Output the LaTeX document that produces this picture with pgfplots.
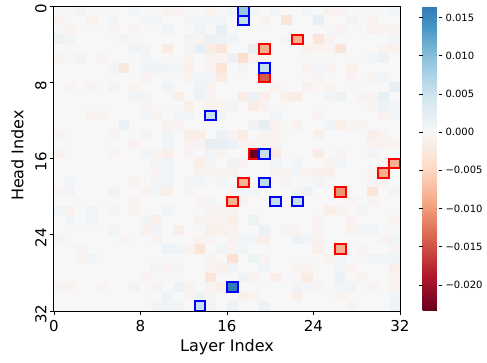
\documentclass[border=0pt]{standalone}
\usepackage{pgfplots}
\pgfplotsset{compat=1.18}
\usepackage{fontspec}
\setmainfont{DejaVu Sans}
\begin{document}
\begin{tikzpicture}
\begin{axis}[
 name=main,
 scale only axis, width=346pt, height=305pt,
 xmin=0, xmax=32, ymin=0, ymax=32, y dir=reverse,
 enlargelimits=false,
 axis on top,
 xtick={0,8,16,24,32}, ytick={0,8,16,24,32},
 tick pos=left,
 tick align=outside, major tick length=4pt,
 tick style={black, line width=0.9pt},
 axis line style={line width=1pt},
 /pgf/number format/assume math mode=true,
 ticklabel style={font=\fontsize{15}{18}\selectfont},
 xticklabel style={yshift=-2pt},
 yticklabel style={rotate=90, anchor=south, xshift=-3pt},
 xlabel={Layer Index}, ylabel={Head Index},
 label style={font=\fontsize{16}{19}\selectfont},
 xlabel style={at={(axis description cs:0.5,-0.1344)}, anchor=base},
 ylabel style={at={(axis description cs:-0.0882,0.51)}, anchor=base},
 colormap={rdbu}{rgb255(0pt)=(103,0,31); rgb255(100pt)=(178,24,43); rgb255(200pt)=(214,96,77); rgb255(300pt)=(244,165,130); rgb255(400pt)=(253,219,199); rgb255(500pt)=(247,247,247); rgb255(600pt)=(209,229,240); rgb255(700pt)=(146,197,222); rgb255(800pt)=(67,147,195); rgb255(853pt)=(49,123,183)},
 point meta min=-0.0234, point meta max=0.0165,
 colorbar,
 colorbar style={
   at={(main.north east)}, anchor=north west, xshift=14pt,
   scale only axis, width=16pt, height=305pt,
   axis line style={draw=none},
   ytick={-0.02,-0.015,-0.01,-0.005,0,0.005,0.01,0.015},
   yticklabels={−0.020,−0.015,−0.010,−0.005,0.000,0.005,0.010,0.015},
   yticklabel style={font=\fontsize{10}{12}\selectfont},
   tick align=outside, major tick length=3.5pt,
   tick style={black, line width=0.8pt},
 },
 unbounded coords=jump,
]
\addplot[matrix plot*, mesh/cols=32, point meta=explicit]
 table[row sep=\\, x expr={\coordindex-32*floor((\coordindex+0.5)/32)+0.5}, y expr={floor((\coordindex+0.5)/32)+0.5}, meta=v]{
v\\
0\\0\\0.0007\\0\\0\\0\\0\\0.0007\\ 0\\0\\-0.0007\\-0.0007\\0\\0\\-0.001\\0\\ 0.0007\\0.009\\0.0007\\0\\0.0007\\0\\0\\0.0007\\ 0\\-0.001\\-0.0007\\0\\0\\0\\0\\0.0007\\
-0.0007\\0\\0\\-0.001\\0\\0.0007\\0\\0\\ 0.0007\\0.0007\\0\\0\\0.0007\\0.0007\\0.0007\\0.0007\\ 0\\0.0055\\0\\-0.0007\\0\\-0.003\\0\\0\\ 0.002\\0\\0\\0.0007\\0\\-0.0007\\0\\0\\
0\\-0.0007\\0\\0\\0\\-0.0007\\0\\-0.0007\\ 0\\0\\0.001\\0\\0\\0.001\\0\\0.002\\ 0\\0\\0\\0\\0\\0\\0\\0\\ 0\\0\\-0.0007\\0\\0\\-0.001\\-0.0007\\-0.0007\\
0.0012\\0.0007\\0\\0\\0\\0\\0.0007\\0\\ 0\\0\\0\\0\\0.0007\\-0.0007\\0.0015\\0.0015\\ 0.0007\\0\\0\\0\\0\\-0.0007\\-0.0085\\0\\ -0.003\\-0.0007\\0\\0\\0\\0\\0\\0.0007\\
0\\0\\0\\0\\0\\0\\0\\0.001\\ 0.0007\\0\\-0.002\\0\\0.0007\\0.002\\-0.002\\-0.003\\ 0\\0\\0.002\\-0.0085\\0\\0\\0\\-0.001\\ -0.0007\\-0.0007\\-0.003\\0\\0\\0\\-0.0007\\-0.001\\
-0.0007\\0\\0.0007\\0\\-0.0007\\0\\0\\0\\ 0.0007\\0\\0\\0\\-0.0007\\0\\-0.0007\\-0.0007\\ 0.0015\\-0.004\\-0.0007\\-0.0007\\0\\0\\0\\0\\ 0\\0\\0\\0\\0\\0.0007\\0.0015\\0\\
0\\0\\0\\0\\0\\0.0007\\-0.0025\\0\\ 0.0007\\0.001\\0.0007\\0.0007\\-0.0015\\0\\-0.0007\\-0.003\\ 0\\0.0007\\0\\0.0055\\0\\0\\0\\-0.0007\\ 0.0007\\-0.0007\\0\\-0.001\\0\\0\\0\\0\\
0\\0\\0\\0\\0\\0\\0\\0\\ -0.0007\\0\\0\\0\\-0.0007\\0.0007\\0.0007\\-0.002\\ 0\\0\\0\\-0.0145\\0\\0\\0\\0\\ -0.0007\\0\\0\\-0.0007\\0\\-0.0007\\0.0007\\0\\
0\\-0.0007\\0\\-0.0007\\0\\0.0007\\0\\-0.0007\\ 0\\0\\0.001\\0\\0\\0.001\\-0.0007\\0\\ 0\\0\\0\\0\\-0.0007\\0\\0\\-0.001\\ 0\\-0.0007\\0\\0\\0\\0\\0\\0.002\\
0\\0\\0\\0\\0\\0\\0\\0.0007\\ 0.0007\\0\\0\\-0.0015\\0\\0.0015\\-0.0007\\0\\ 0\\-0.002\\0.0015\\-0.0015\\0\\-0.0015\\-0.002\\0\\ 0\\0.0007\\0.0012\\0\\-0.0007\\-0.0007\\0.0018\\0\\
0\\0\\0\\0\\0\\0\\0\\0\\ -0.0007\\0\\0\\0\\-0.0015\\0\\-0.0007\\-0.0007\\ 0.0007\\0\\-0.002\\-0.0007\\0\\0\\0\\0\\ 0\\0\\0\\0\\0\\-0.0007\\0.0013\\0.0007\\
0\\0\\0\\-0.0007\\-0.0007\\0\\0\\0\\ 0.0007\\-0.001\\0\\0.0007\\0.0007\\0\\0.0055\\0.0007\\ 0\\0\\0\\0\\0.0007\\0\\0\\0\\ -0.0007\\0\\0\\0\\0\\0\\-0.0007\\0.0007\\
0\\0\\0\\0\\0\\0\\0.0015\\0\\ 0\\0\\-0.0007\\-0.0007\\0\\0\\0\\0\\ 0\\0\\0.001\\0.002\\-0.0007\\0\\-0.001\\0\\ 0\\0.0007\\-0.0015\\-0.0007\\-0.0007\\0\\0\\0\\
-0.0007\\0\\0\\0\\0\\-0.0007\\0\\0\\ 0.0007\\0\\0.0007\\0\\-0.0015\\-0.0015\\0\\0.0015\\ -0.0007\\-0.002\\0\\-0.0007\\-0.0007\\0\\0\\0\\ -0.0015\\0\\0\\0\\0\\-0.0015\\-0.0007\\0\\
0\\0\\0\\0\\0\\0\\0\\-0.001\\ 0\\0\\0.0007\\0\\-0.0007\\-0.0007\\0.002\\0.002\\ 0.0015\\-0.0007\\-0.0007\\-0.0007\\-0.0007\\0\\0\\0\\ 0\\0\\0\\0\\0\\-0.0007\\-0.0007\\-0.0007\\
-0.001\\0\\0\\0\\0\\-0.0007\\0\\0\\ 0.0007\\-0.0007\\-0.0015\\0\\-0.0007\\0\\0.0007\\-0.0007\\ 0\\0\\-0.0234\\0.0055\\-0.002\\0\\0\\0\\ -0.002\\0\\-0.0007\\0\\0\\0.0007\\0\\0\\
0\\0\\0\\0\\0\\0\\0\\0\\ 0\\0.0007\\0.0007\\0\\0\\-0.0015\\0.0007\\0\\ 0.001\\-0.0007\\0\\0\\0.0007\\0\\0.0007\\0\\ 0\\-0.0007\\0.0007\\0\\0\\0\\-0.0007\\-0.0085\\
0\\0\\0\\0\\0\\0\\0\\0\\ 0\\-0.0007\\0.0007\\0\\0\\-0.0007\\-0.0007\\-0.0007\\ -0.0007\\0\\0\\0\\-0.0007\\-0.0007\\0.0007\\-0.0007\\ -0.0012\\-0.0015\\0\\0\\0\\-0.0007\\-0.0085\\0\\
0\\0.0007\\0\\0\\0\\0\\0\\-0.0007\\ 0\\0.0007\\0.0007\\0\\0.0007\\0.0007\\0\\0.0007\\ 0\\-0.008\\0\\0.006\\0\\-0.0007\\0\\0\\ 0.0007\\0\\0\\0\\0\\-0.0007\\-0.0007\\0\\
-0.0007\\0.0007\\0\\0\\0\\0.001\\0\\0\\ -0.0007\\0.0007\\-0.0015\\0\\-0.0007\\0\\0\\0\\ -0.0007\\0.0007\\0.0007\\0\\0\\0\\0.0007\\0.0015\\ 0\\0\\-0.0105\\0\\0\\-0.003\\0\\0.0007\\
0\\0\\0\\0\\0\\0\\0\\-0.0007\\ 0\\0\\0\\0\\0\\-0.0007\\0.0007\\0\\ -0.008\\-0.0007\\0\\0\\0.0055\\0\\0.0055\\0\\ 0\\0\\0\\-0.0007\\0\\-0.0007\\0\\0\\
0.0007\\-0.001\\0\\0.0007\\0\\0.0007\\0\\-0.001\\ 0\\0\\0.0007\\0\\0\\0\\-0.0007\\-0.0007\\ -0.0007\\0\\0\\0\\0\\0\\0\\0\\ 0\\-0.0015\\-0.0007\\0\\0.0007\\0\\0\\0\\
0\\0.0007\\0\\0.0007\\0\\0\\0\\0\\ 0.0007\\-0.0015\\0\\0\\0\\-0.0007\\-0.001\\-0.0007\\ -0.0015\\0\\0.0012\\0\\0\\0\\0\\0\\ -0.0007\\0\\0\\-0.0007\\0\\0\\0\\-0.0007\\
0\\0\\0\\0\\0\\0.0007\\0\\0\\ -0.001\\0.0007\\0\\-0.0015\\0\\0\\-0.0012\\-0.0012\\ -0.0007\\0\\0\\0.0015\\0\\0.0007\\-0.0007\\0\\ -0.0007\\0\\0\\-0.001\\0.0007\\0.0007\\0\\0\\
0.0007\\0\\0\\0\\0\\0\\-0.0007\\0\\ 0\\-0.0007\\0\\0\\0\\-0.0007\\-0.0007\\0\\ -0.0007\\0.0007\\0.0007\\-0.0015\\0\\0\\0.0013\\0.0007\\ -0.001\\0\\0\\0\\0\\0\\-0.0007\\0.0007\\
0\\0\\-0.0007\\0\\0\\0\\0\\0\\ 0\\0\\0.0013\\0.0007\\-0.0007\\-0.003\\0\\0.0007\\ -0.0007\\0.0007\\0\\0\\0\\0\\0\\0\\ -0.0012\\0\\-0.0085\\0\\-0.0007\\0\\0\\-0.0007\\
0\\0\\-0.0007\\0.0007\\0\\0\\0\\0\\ 0\\0\\0\\0\\0\\0\\-0.0007\\0\\ -0.0035\\0\\0.0012\\-0.0007\\0\\0\\0\\0\\ 0\\-0.0007\\0.0007\\0\\0\\0.0007\\0.0007\\0.0007\\
0\\0\\0\\0\\0\\0\\0\\0\\ 0\\0.0007\\-0.0007\\0.0007\\0\\0\\-0.0007\\-0.0012\\ 0.0007\\0\\0\\0.0007\\0\\0\\-0.0007\\-0.0007\\ 0\\0\\0.0007\\-0.0007\\0\\0\\0\\-0.0015\\
0\\0\\0\\0\\0\\0\\0\\0\\ -0.0007\\0\\0\\0\\0\\0\\-0.003\\0\\ 0\\0.001\\-0.0007\\0\\-0.0015\\0\\0\\-0.002\\ 0\\0\\0.0015\\0\\-0.0007\\0\\0\\-0.0007\\
-0.0007\\-0.0007\\0\\0\\-0.0007\\0\\0\\0.0007\\ 0\\-0.0007\\0\\0.0012\\-0.0007\\0\\-0.0007\\-0.0015\\ 0.0165\\0\\0\\0\\0\\0\\0.0007\\0.0007\\ -0.0007\\0\\0.0007\\0.0007\\0\\-0.0007\\0\\-0.0007\\
0\\0\\0\\0\\0\\0\\0\\0\\ 0\\0\\0.0013\\0\\-0.0007\\0.0013\\-0.0007\\0\\ 0\\-0.0012\\-0.0007\\0\\0\\0\\-0.0015\\0\\ 0\\0\\-0.0007\\0\\0\\0\\0\\0.0007\\
0\\0\\0\\0\\0\\0\\0\\0\\ 0\\0.0007\\0.0007\\0.0007\\0\\0.0055\\0.0007\\0\\ 0.0015\\0\\0\\0.0015\\0\\0\\0\\0\\ 0\\0\\0\\-0.0007\\0\\0\\0\\0.001\\
};
\addplot[draw=red, line width=2pt, line cap=rect, mark=none, forget plot] coordinates {
(22,3)(23,3)(23,4)(22,4)(22,3) (nan,nan)
(19,4)(20,4)(20,5)(19,5)(19,4) (nan,nan)
(19,7)(20,7)(20,8)(19,8)(19,7) (nan,nan)
(18,15)(19,15)(19,16)(18,16)(18,15) (nan,nan)
(31,16)(32,16)(32,17)(31,17)(31,16) (nan,nan)
(30,17)(31,17)(31,18)(30,18)(30,17) (nan,nan)
(17,18)(18,18)(18,19)(17,19)(17,18) (nan,nan)
(26,19)(27,19)(27,20)(26,20)(26,19) (nan,nan)
(16,20)(17,20)(17,21)(16,21)(16,20) (nan,nan)
(26,25)(27,25)(27,26)(26,26)(26,25)
};
\addplot[draw=blue, line width=2pt, line cap=rect, mark=none, forget plot] coordinates {
(17,0)(18,0)(18,1)(17,1)(17,0) (nan,nan)
(17,1)(18,1)(18,2)(17,2)(17,1) (nan,nan)
(19,6)(20,6)(20,7)(19,7)(19,6) (nan,nan)
(14,11)(15,11)(15,12)(14,12)(14,11) (nan,nan)
(19,15)(20,15)(20,16)(19,16)(19,15) (nan,nan)
(19,18)(20,18)(20,19)(19,19)(19,18) (nan,nan)
(20,20)(21,20)(21,21)(20,21)(20,20) (nan,nan)
(22,20)(23,20)(23,21)(22,21)(22,20) (nan,nan)
(16,29)(17,29)(17,30)(16,30)(16,29) (nan,nan)
(13,31)(14,31)(14,32)(13,32)(13,31)
};
\end{axis}
\pgfresetboundingbox
\path[use as bounding box] ([shift={(-54pt,-51pt)}]main.south west) rectangle ++(487pt,362pt);
\end{tikzpicture}
\end{document}
